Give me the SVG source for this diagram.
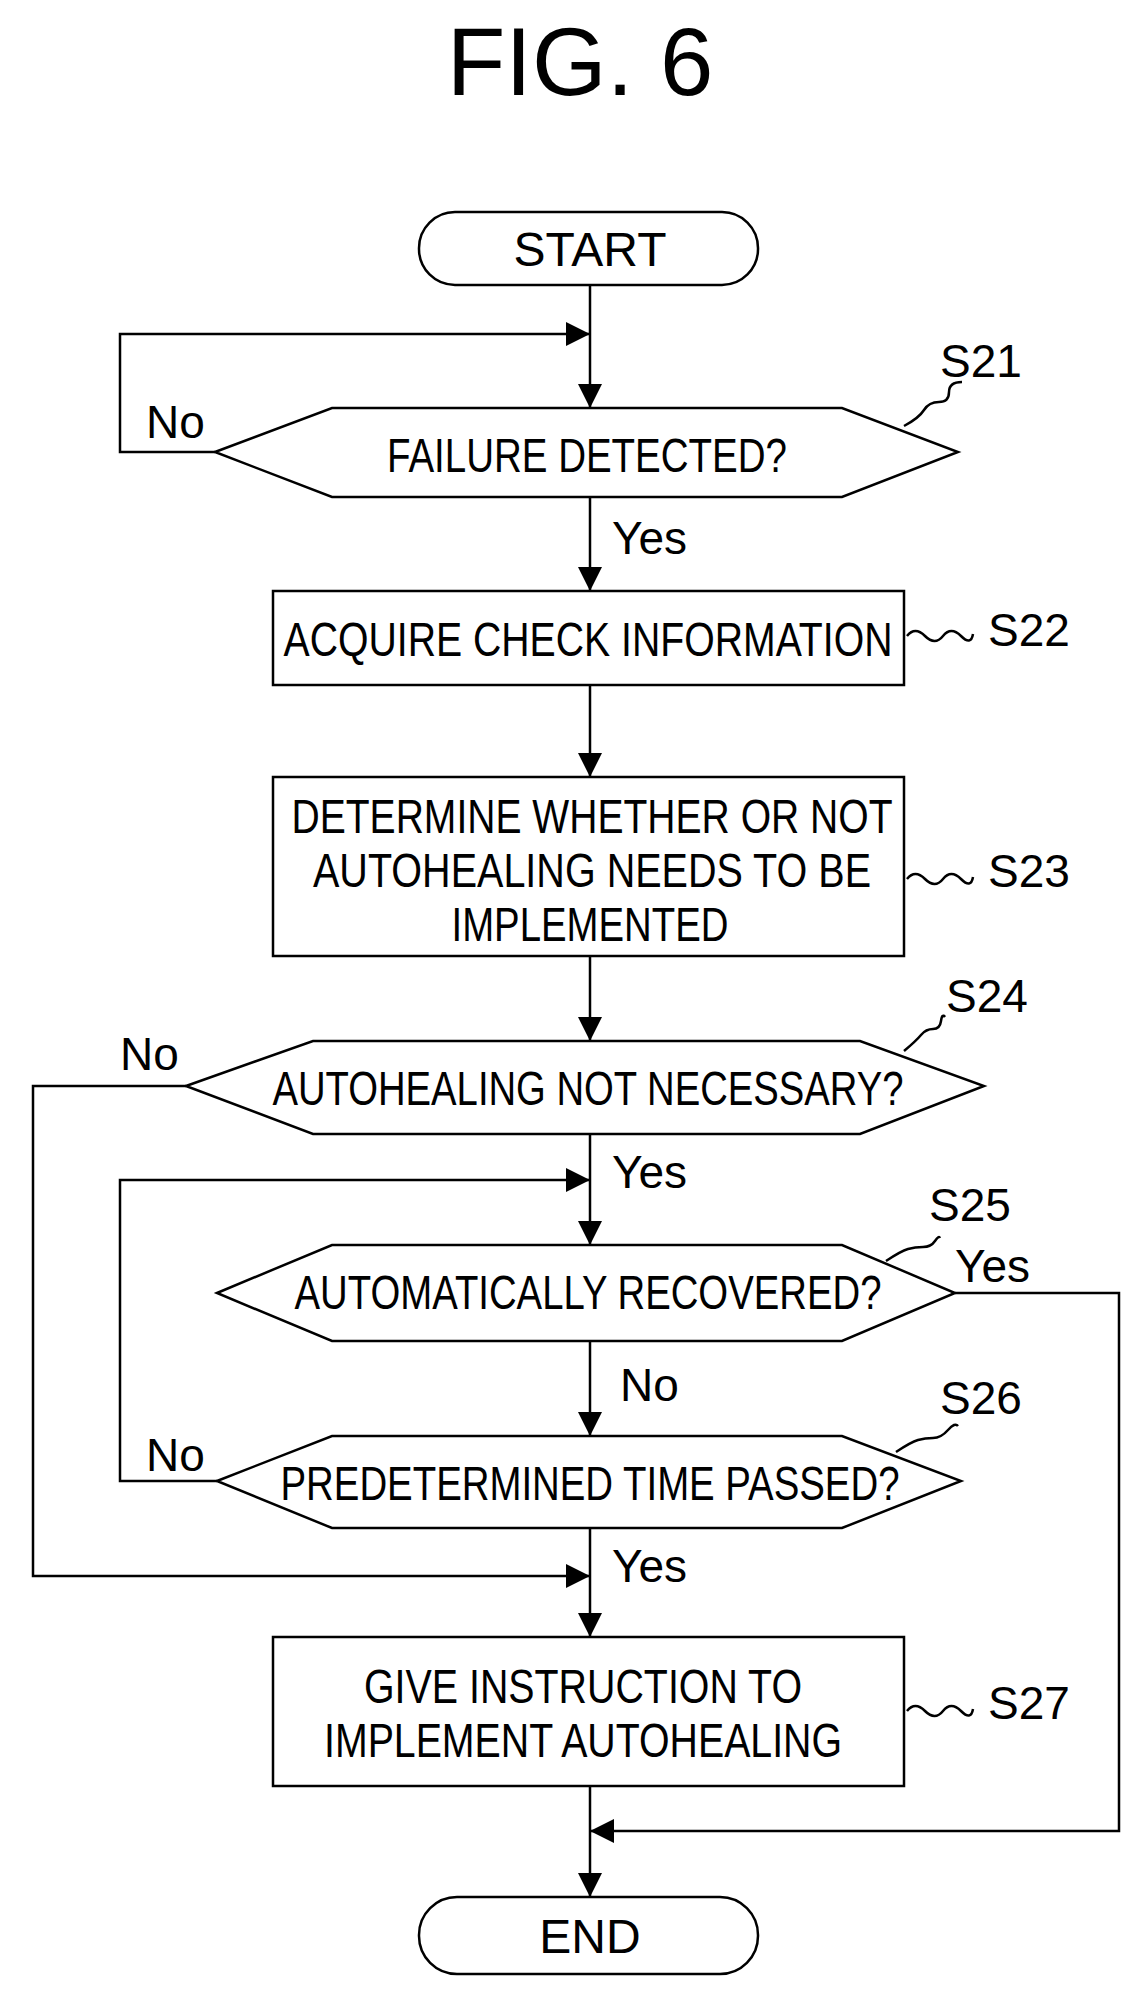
<svg xmlns="http://www.w3.org/2000/svg" width="1137" height="1993" viewBox="0 0 1137 1993">
<style>
.s{fill:#fff;stroke:#000;stroke-width:2.5}
.c{fill:none;stroke:#000;stroke-width:2.5}
.t{font-family:"Liberation Sans",Arial,sans-serif;font-size:48px;fill:#000;text-anchor:middle}
.l{font-family:"Liberation Sans",Arial,sans-serif;font-size:46px;fill:#000}
</style>
<defs><marker id="b" viewBox="0 0 10 10" refX="10" refY="5" markerWidth="24" markerHeight="24" markerUnits="userSpaceOnUse" orient="auto"><path d="M0,0L10,5L0,10z" fill="#000"/></marker></defs>
<text x="580" y="95" style="font-family:'Liberation Sans',Arial,sans-serif;font-size:96px;text-anchor:middle">FIG. 6</text>
<g id="connectors">
<path class="c" d="M590,285V408" marker-end="url(#b)"/>
<path class="c" d="M215,452H120V334H590" marker-end="url(#b)"/>
<path class="c" d="M590,497V591" marker-end="url(#b)"/>
<path class="c" d="M590,685V777" marker-end="url(#b)"/>
<path class="c" d="M590,956V1041" marker-end="url(#b)"/>
<path class="c" d="M590,1134V1245" marker-end="url(#b)"/>
<path class="c" d="M217,1481H120V1180H590" marker-end="url(#b)"/>
<path class="c" d="M590,1341V1436" marker-end="url(#b)"/>
<path class="c" d="M186,1086H33V1576H590" marker-end="url(#b)"/>
<path class="c" d="M590,1528V1637" marker-end="url(#b)"/>
<path class="c" d="M955,1293H1119V1831H590" marker-end="url(#b)"/>
<path class="c" d="M590,1786V1897" marker-end="url(#b)"/>
<path class="c" d="M904,426q15,-8 20,-16t15,-8t10,-10t13,-10"/>
<path class="c" d="M907,636q8,-10 18,0t18,0t18,0t12,-2"/>
<path class="c" d="M907,879q8,-10 18,0t18,0t18,0t12,-2"/>
<path class="c" d="M904,1051q12,-10 17,-16t12,-6t8,-8t4,-4"/>
<path class="c" d="M886,1261q15,-10 22,-12t15,-2t12,-6t5,-3"/>
<path class="c" d="M896,1452q15,-10 22,-12t15,-2t15,-8t10,-4"/>
<path class="c" d="M907,1711q8,-10 18,0t18,0t18,0t12,-2"/>
</g>
<text class="l" x="612" y="554">Yes</text>
<text class="l" x="146" y="438">No</text>
<text class="l" x="120" y="1070">No</text>
<text class="l" x="612" y="1188">Yes</text>
<text class="l" x="955" y="1282">Yes</text>
<text class="l" x="620" y="1401">No</text>
<text class="l" x="146" y="1471">No</text>
<text class="l" x="612" y="1582">Yes</text>
<g id="start"><rect class="s" x="419" y="212" width="339" height="73" rx="36"/><text class="t" x="590" y="266">START</text></g>
<g id="s21"><polygon class="s" points="215,452 332,408 842,408 958,452 842,497 332,497"/><text class="t" x="587" y="472" textLength="400" lengthAdjust="spacingAndGlyphs">FAILURE DETECTED?</text><text class="l" x="940" y="377">S21</text></g>
<g id="s22"><rect class="s" x="273" y="591" width="631" height="94"/><text class="t" x="588" y="656" textLength="609" lengthAdjust="spacingAndGlyphs">ACQUIRE CHECK INFORMATION</text><text class="l" x="988" y="646">S22</text></g>
<g id="s23"><rect class="s" x="273" y="777" width="631" height="179"/><text class="t" x="592" y="833" textLength="601" lengthAdjust="spacingAndGlyphs">DETERMINE WHETHER OR NOT</text><text class="t" x="592" y="887" textLength="558" lengthAdjust="spacingAndGlyphs">AUTOHEALING NEEDS TO BE</text><text class="t" x="590" y="941" textLength="277" lengthAdjust="spacingAndGlyphs">IMPLEMENTED</text><text class="l" x="988" y="887">S23</text></g>
<g id="s24"><polygon class="s" points="186,1086 313,1041 860,1041 984,1086 860,1134 313,1134"/><text class="t" x="588" y="1105" textLength="631" lengthAdjust="spacingAndGlyphs">AUTOHEALING NOT NECESSARY?</text><text class="l" x="946" y="1012">S24</text></g>
<g id="s25"><polygon class="s" points="217,1293 332,1245 842,1245 955,1293 842,1341 332,1341"/><text class="t" x="588" y="1309" textLength="587" lengthAdjust="spacingAndGlyphs">AUTOMATICALLY RECOVERED?</text><text class="l" x="929" y="1221">S25</text></g>
<g id="s26"><polygon class="s" points="217,1481 332,1436 842,1436 961,1481 842,1528 332,1528"/><text class="t" x="590" y="1500" textLength="619" lengthAdjust="spacingAndGlyphs">PREDETERMINED TIME PASSED?</text><text class="l" x="940" y="1414">S26</text></g>
<g id="s27"><rect class="s" x="273" y="1637" width="631" height="149"/><text class="t" x="583" y="1703" textLength="438" lengthAdjust="spacingAndGlyphs">GIVE INSTRUCTION TO</text><text class="t" x="583" y="1757" textLength="518" lengthAdjust="spacingAndGlyphs">IMPLEMENT AUTOHEALING</text><text class="l" x="988" y="1719">S27</text></g>
<g id="end"><rect class="s" x="419" y="1897" width="339" height="77" rx="38"/><text class="t" x="590" y="1953">END</text></g>
</svg>
